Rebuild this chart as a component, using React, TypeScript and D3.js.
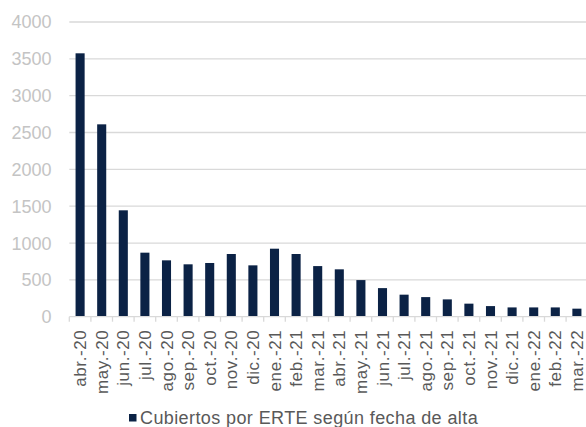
import React from "react";
import * as d3 from "d3";

const categories = [
  "abr.-20", "may.-20", "jun.-20", "jul.-20", "ago.-20", "sep.-20", "oct.-20", "nov.-20", "dic.-20",
  "ene.-21", "feb.-21", "mar.-21", "abr.-21", "may.-21", "jun.-21", "jul.-21", "ago.-21", "sep.-21",
  "oct.-21", "nov.-21", "dic.-21", "ene.-22", "feb.-22", "mar.-22",
];
const values = [
  3575, 2611, 1444, 869, 765, 711, 729, 851, 697,
  923, 851, 687, 643, 497, 388, 299, 266, 235,
  177, 144, 126, 126, 126, 109,
];
const yTicks = [0, 500, 1000, 1500, 2000, 2500, 3000, 3500, 4000];
const seriesName = "Cubiertos por ERTE según fecha de alta";

const W = 586;
const H = 427;
const left = 69.3;
const right = 587.7;
const top = 22;
const bottom = 316.7;
const font = "'Liberation Sans', Arial, sans-serif";
const barColor = "#0b2245";

export default function App() {
  const x = d3.scaleBand<string>().domain(categories).range([left, right]).paddingInner(0.58).paddingOuter(0.29);
  const xb = d3.scaleBand<string>().domain(categories).range([left, right]);
  const y = d3.scaleLinear().domain([0, 4000]).range([bottom, top]);

  return (
    <svg width={W} height={H} style={{ position: "absolute", left: 0, top: 0, background: "#fff" }}>
      {yTicks.map((t) => (
        <g key={t}>
          {t > 0 && (
            <line x1={left} x2={W} y1={y(t)} y2={y(t)} stroke="#d9d9d9" strokeWidth={1.3} />
          )}
          <text x={51.5} y={y(t)} dy="0.36em" textAnchor="end" fontFamily={font} fontSize={18} fill="#c4c4c4">
            {t}
          </text>
        </g>
      ))}
      {categories.map((c, i) => (
        <rect key={c} x={x(c)} y={y(values[i])} width={x.bandwidth()} height={bottom - y(values[i])} fill={barColor} />
      ))}
      <line x1={left} x2={W} y1={bottom} y2={bottom} stroke="#d9d9d9" strokeWidth={1.3} />
      {categories.map((c) => (
        <line key={"t" + c} x1={xb(c)} x2={xb(c)} y1={bottom} y2={bottom + 5} stroke="#d9d9d9" strokeWidth={1.3} />
      ))}
      {categories.map((c) => {
        const cx = (xb(c) as number) + xb.bandwidth() / 2;
        return (
          <text
            key={"l" + c}
            transform={`translate(${cx + 6},${329.6}) rotate(-90)`}
            textAnchor="end"
            fontFamily={font}
            fontSize={17}
            letterSpacing={0.6}
            fill="#595959"
          >
            {c}
          </text>
        );
      })}
      <rect x={129} y={414} width={7.5} height={7.5} fill={barColor} />
      <text x={140} y={423.5} fontFamily={font} fontSize={18} letterSpacing={0.4} fill="#595959">
        {seriesName}
      </text>
    </svg>
  );
}
